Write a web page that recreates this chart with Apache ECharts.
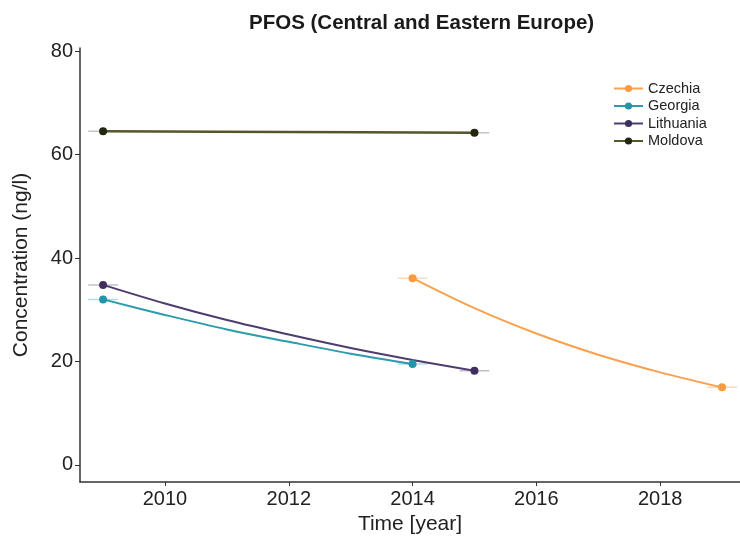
<!DOCTYPE html>
<html><head><meta charset="utf-8">
<script src="https://cdn.jsdelivr.net/npm/echarts@6/dist/echarts.min.js"></script>
<style>html,body{margin:0;padding:0;background:#fff}#c{width:740px;height:543px}</style>
</head><body><div id="c"></div>
<script>
// Data
const countries = ['Czechia', 'Georgia', 'Lithuania', 'Moldova'];
// fitted curves (year, concentration) — endpoints are measurements
const czechiaYears = [2014, 2015, 2016, 2017, 2018, 2019];
const czechiaVals  = [36.1, 30.3, 25.4, 21.3, 17.9, 15.0];
const georgiaYears = [2009, 2010, 2011, 2012, 2013, 2014];
const georgiaVals  = [32.0, 29.0, 26.2, 23.8, 21.5, 19.5];
const lithuaniaYears = [2009, 2010, 2011, 2012, 2013, 2014, 2015];
const lithuaniaVals  = [34.8, 31.2, 28.0, 25.2, 22.6, 20.3, 18.2];
const moldovaYears = [2009, 2012, 2015];
const moldovaVals  = [64.5, 64.35, 64.2];
const yearErr = 0.24; // horizontal error half-width (years)
const xTicks = [2010, 2012, 2014, 2016, 2018];
const yTicks = [0, 20, 40, 60, 80];

const FONT = 'Liberation Sans, Arial, Helvetica, sans-serif';
const lineColors = {Czechia:'#FBA04C', Georgia:'#2C9BAD', Lithuania:'#4E3C6F', Moldova:'#56562A'};
const dotColors  = {Czechia:'#FB9A40', Georgia:'#2495A8', Lithuania:'#3F2F60', Moldova:'#23270E'};
const errColors  = {Czechia:'#FCD9BC', Georgia:'#B2DDE4', Lithuania:'#C3BDCF', Moldova:'#C4C4C0'};

const raw = {
  Czechia: [czechiaYears, czechiaVals],
  Georgia: [georgiaYears, georgiaVals],
  Lithuania: [lithuaniaYears, lithuaniaVals],
  Moldova: [moldovaYears, moldovaVals]
};

const series = [];
countries.forEach(name => {
  const [xs, ys] = raw[name];
  const n = xs.length;
  [0, n - 1].forEach(i => {
    series.push({
      type: 'line', name: name + '_err', silent: true, z: 1,
      data: [[xs[i] - yearErr, ys[i]], [xs[i] + yearErr, ys[i]]],
      symbol: 'none', lineStyle: {color: errColors[name], width: 1.5},
      animation: false
    });
  });
  series.push({
    type: 'line', name: name, z: 3, smooth: 0.35,
    data: xs.map((x, i) => ({value: [x, ys[i]], symbol: (i === 0 || i === n - 1) ? 'circle' : 'none'})),
    symbol: 'circle', symbolSize: 8, showAllSymbol: true,
    lineStyle: {color: lineColors[name], width: name === 'Moldova' ? 2.4 : 2},
    itemStyle: {color: dotColors[name], borderWidth: 0},
    color: lineColors[name],
    animation: false
  });
});

const chart = echarts.init(document.getElementById('c'), null, {renderer: 'canvas'});
chart.setOption({
  backgroundColor: '#fff',
  title: {
    text: 'PFOS (Central and Eastern Europe)', left: 244, top: 8,
    textStyle: {fontFamily: FONT, fontWeight: 'bold', fontSize: 20.5, color: '#1a1a1a'}
  },
  legend: {
    data: countries.map(n => ({name: n, itemStyle: {color: dotColors[n]}, lineStyle: {color: lineColors[n], width: 2}})),
    orient: 'vertical', left: 608, top: 76, itemGap: 2.5, itemWidth: 29, itemHeight: 9,
    textStyle: {fontFamily: FONT, fontSize: 14.5, color: '#222'}
  },
  grid: {left: 80, right: 0, top: 48, bottom: 61, containLabel: false},
  xAxis: {
    type: 'value', min: 2008.627, max: 2019.29,
    name: 'Time [year]', nameLocation: 'middle', nameGap: 30,
    nameTextStyle: {fontFamily: FONT, fontSize: 21, color: '#222'},
    axisLine: {show: true, onZero: false, lineStyle: {color: '#333', width: 1.5}},
    axisTick: {show: true, length: 4, customValues: xTicks, lineStyle: {color: '#333'}},
    axisLabel: {customValues: xTicks, margin: 7, fontFamily: FONT, fontSize: 20, color: '#222', formatter: v => String(v)},
    splitLine: {show: false}
  },
  yAxis: {
    type: 'value', min: -3.29, max: 80.58,
    name: 'Concentration (ng/l)', nameLocation: 'middle', nameGap: 48, nameRotate: 90,
    nameTextStyle: {fontFamily: FONT, fontSize: 21, color: '#222'},
    axisLine: {show: true, onZero: false, lineStyle: {color: '#333', width: 1.5}},
    axisTick: {show: true, length: 5, customValues: yTicks, lineStyle: {color: '#333'}},
    axisLabel: {customValues: yTicks, margin: 7, fontFamily: FONT, fontSize: 20, color: '#222'},
    splitLine: {show: false}
  },
  series: series
});
</script></body></html>
